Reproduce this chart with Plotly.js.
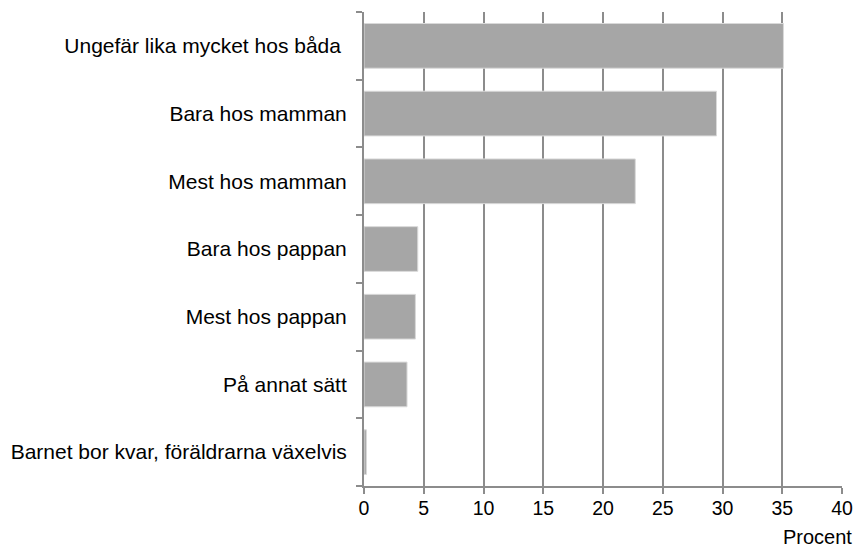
<!DOCTYPE html>
<html><head><meta charset="utf-8">
<script src="https://cdn.plot.ly/plotly-3.0.1.min.js"></script>
<style>body{margin:0;background:#fff}#c{width:854px;height:555px}</style>
</head><body><div id="c"></div>
<script>
var categories = ["Ungefär lika mycket hos båda", "Bara hos mamman", "Mest hos mamman", "Bara hos pappan", "Mest hos pappan", "På annat sätt", "Barnet bor kvar, föräldrarna växelvis"];
var values = [35.1, 29.5, 22.7, 4.5, 4.3, 3.6, 0.2];
var xTicks = [0, 5, 10, 15, 20, 25, 30, 35, 40];
var xTitle = "Procent";

var trace = {
  type: 'bar', orientation: 'h',
  x: values, y: categories,
  marker: {color: '#a6a6a6', line: {color: '#d9d9d9', width: 1}},
  width: 0.66, hoverinfo: 'none'
};
var layout = {
  width: 854, height: 555,
  margin: {l: 364, r: 12, t: 12, b: 69},
  paper_bgcolor: '#fff', plot_bgcolor: '#fff',
  showlegend: false,
  font: {family: 'Liberation Sans, Arial, sans-serif', size: 20, color: '#000'},
  xaxis: {
    range: [0, 40], tickvals: xTicks, ticktext: xTicks.map(String),
    tickfont: {size: 19.5},
    showgrid: true, gridcolor: '#8c8c8c', gridwidth: 2,
    showline: true, linecolor: '#8c8c8c', linewidth: 2,
    ticks: 'outside', ticklen: 6, tickcolor: '#8c8c8c', tickwidth: 2,
    ticklabelstandoff: -2,
    zeroline: false, fixedrange: true
  },
  yaxis: {
    type: 'category', autorange: 'reversed',
    tickvals: categories,
    ticktext: categories.map(function (c, i) { return i === 0 ? c + '\u00a0' : c; }),
    tickfont: {size: 21},
    showgrid: false, showline: true, linecolor: '#8c8c8c', linewidth: 2,
    ticks: 'outside', ticklen: 6, tickcolor: '#8c8c8c', tickwidth: 2,
    tickson: 'boundaries', ticklabelstandoff: 11,
    zeroline: false, fixedrange: true
  },
  annotations: [{
    text: xTitle, xref: 'paper', yref: 'paper', x: 1.0, y: 0,
    xanchor: 'right', yanchor: 'top', yshift: -38, xshift: 12, showarrow: false,
    font: {size: 20, color: '#000'}
  }]
};
Plotly.newPlot('c', [trace], layout, {displayModeBar: false, staticPlot: true});
</script></body></html>
